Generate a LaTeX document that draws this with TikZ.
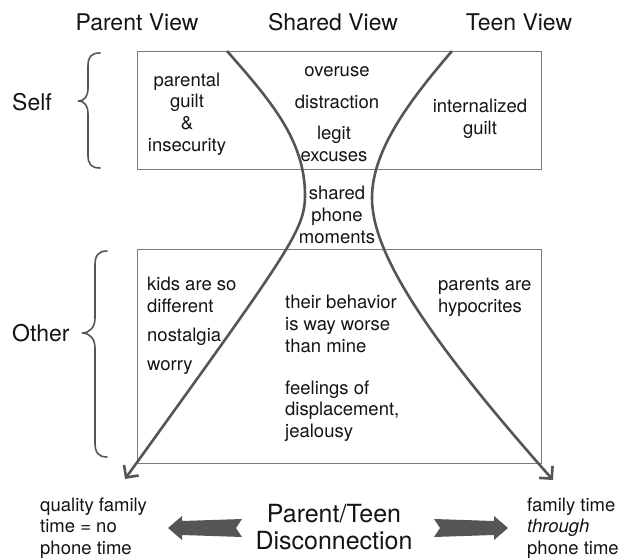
\documentclass[tikz,border=0pt]{standalone}
\usepackage{fontspec}
\setmainfont{TeX Gyre Heros}
\usetikzlibrary{arrows.meta}
\definecolor{linegray}{HTML}{555555}
\definecolor{boxgray}{HTML}{7A7A7A}
\definecolor{txt}{HTML}{141414}
\begin{document}
\begin{tikzpicture}[x=1pt,y=-1pt,
  body/.style={inner sep=0pt, font=\fontsize{18.5}{21.7}\selectfont, align=center, text=txt},
  lbody/.style={body, align=left, anchor=west},
  head/.style={inner sep=0pt, font=\fontsize{23}{27}\selectfont, text=txt},
  big/.style={inner sep=0pt, font=\fontsize{25}{27}\selectfont, align=center, text=txt},
  frame/.style={draw=boxgray, line width=1.2pt, inner sep=0pt, anchor=north west},
  flow/.style={draw=linegray, line width=2.6pt, -{Straight Barb[length=9pt,width=18pt]}},
  bracepath/.style={draw=linegray, line width=1.6pt, line cap=round},
  blockarrow/.style={fill=linegray, draw=none}]
\useasboundingbox (0,0) rectangle (621,559);

% headings
\node[head] (hparent) at (137,22) {Parent View};
\node[head] (hshared) at (333,22) {Shared View};
\node[head] (hteen) at (519,22) {Teen View};
\node[head, anchor=west] (lself) at (12,102) {Self};
\node[head, anchor=west] (lother) at (12,333) {Other};

% boxes
\node[frame, minimum width=404pt, minimum height=118pt] (selfbox) at (137,51) {};
\node[frame, minimum width=404pt, minimum height=214pt] (otherbox) at (137,249) {};

% braces
\draw[bracepath] (100,53) .. controls (91,53) and (88,57) .. (88,66) -- (88,88)
  .. controls (88,96) and (85,101) .. (78,101)
  .. controls (85,101) and (88,106) .. (88,114) -- (88,155)
  .. controls (88,164) and (91,168) .. (100,168);
\draw[bracepath] (107,251) .. controls (98,251) and (95,256) .. (95,265) -- (95,318)
  .. controls (95,327) and (90,333) .. (82,333)
  .. controls (90,333) and (95,339) .. (95,348) -- (95,443)
  .. controls (95,452) and (98,457) .. (107,457);

% hourglass curves
\coordinate (ltop) at (227,51);
\coordinate (lwaist) at (305,195);
\coordinate (ltip) at (125,479);
\coordinate (rtop) at (452,51);
\coordinate (rwaist) at (372,198);
\coordinate (rtip) at (553,480);
\draw[flow] (ltop) .. controls (270,100) and (305,140) .. (lwaist)
  .. controls (305,230) and (290,250) .. (ltip);
\draw[flow] (rtop) .. controls (410,100) and (372,150) .. (rwaist)
  .. controls (372,250) and (420,330) .. (rtip);

% top box texts
\node[body] (guilt) at (187,114) {parental\\guilt\\\&\\insecurity};
\node[body] (overuse) at (337,72) {overuse};
\node[body] (distraction) at (337,102) {distraction};
\node[body] (legit) at (334,144) {legit\\excuses};
\node[body] (internal) at (480,119) {internalized\\guilt};
\node[body] (sharedphone) at (337,215) {shared\\phone\\moments};

% bottom box texts
\node[lbody] (kids) at (147,295) {kids are so\\different};
\node[lbody] (nostalgia) at (147,337) {nostalgia};
\node[lbody] (worry) at (147,368) {worry};
\node[lbody] (behavior) at (285,324) {their behavior\\is way worse\\than mine};
\node[lbody] (feelings) at (285,411) {feelings of\\displacement,\\jealousy};
\node[lbody] (hypo) at (438,297) {parents are\\hypocrites};

% bottom row
\node[lbody] (quality) at (40,528) {quality family\\time = no\\phone time};
\node[big] (disc) at (334,527) {Parent/Teen\\Disconnection};
\node[lbody] (through) at (527,528) {family time\\\textit{through}\\phone time};

% block arrows
\fill[blockarrow] (168,528) -- (182,516) -- (182,521) -- (242,519) -- (236,528)
  -- (242,537) -- (182,535) -- (182,540) -- cycle;
\fill[blockarrow] (508,528) -- (494,516) -- (494,521) -- (434,519) -- (440,528)
  -- (434,537) -- (494,535) -- (494,540) -- cycle;
\end{tikzpicture}
\end{document}
